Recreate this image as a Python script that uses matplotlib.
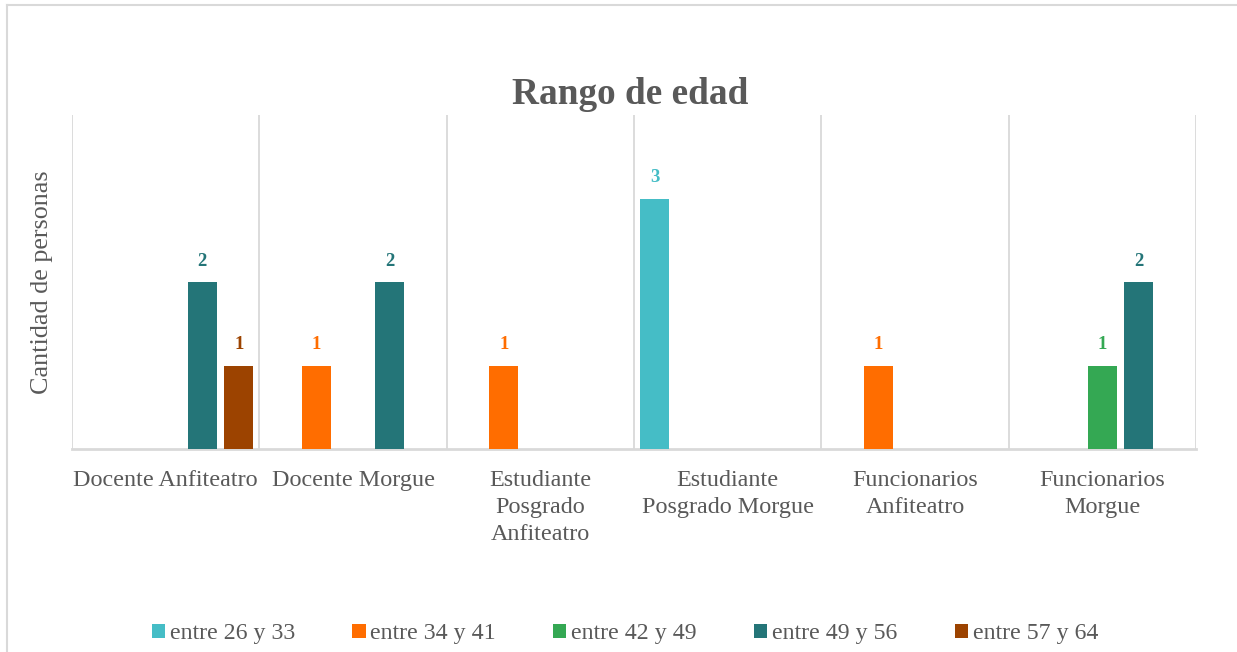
import matplotlib
matplotlib.use("Agg")
import matplotlib.pyplot as plt
from matplotlib.lines import Line2D
from matplotlib.patches import Patch

categories = ["Docente Anfiteatro", "Docente Morgue", "Estudiante\nPosgrado\nAnfiteatro",
              "Estudiante\nPosgrado Morgue", "Funcionarios\nAnfiteatro", "Funcionarios\nMorgue"]
series_names = ["entre 26 y 33", "entre 34 y 41", "entre 42 y 49", "entre 49 y 56", "entre 57 y 64"]
# None = no bar
s26_33 = [None, None, None, 3, None, None]
s34_41 = [None, 1, 1, None, 1, None]
s42_49 = [None, None, None, None, None, 1]
s49_56 = [2, 2, None, None, None, 2]
s57_64 = [1, None, None, None, None, None]
series_values = [s26_33, s34_41, s42_49, s49_56, s57_64]
colors = ["#45bdc6", "#ff6d00", "#34a853", "#247578", "#9c4300"]

plt.rcParams['font.family'] = ['Liberation Serif', 'DejaVu Serif']
text_grey = "#595959"
grid_grey = "#d9d9d9"

fig = plt.figure(figsize=(12.37, 6.52), dpi=100)
ax = fig.add_axes([72/1237, 1 - 449/652, (1196-72)/1237, (449-115)/652])

n = len(categories)
slot = 0.195
width = 0.155
for j, (vals, col) in enumerate(zip(series_values, colors)):
    for i, v in enumerate(vals):
        if v is None:
            continue
        x = i + (j - 2) * slot
        ax.bar(x, v, width=width, color=col, zorder=3)
        ax.annotate(str(v), (x, v), xytext=(0, 9), textcoords="offset points",
                    ha="center", va="bottom", fontsize=13.5, fontweight="bold", color=col)

ax.set_xlim(-0.5, n - 0.5)
ax.set_ylim(0, 4)
for b in range(n + 1):
    ax.axvline(b - 0.5, color=grid_grey, lw=1.3, zorder=1)
for s in ["top", "right", "left"]:
    ax.spines[s].set_visible(False)
ax.spines["bottom"].set_color(grid_grey)
ax.spines["bottom"].set_linewidth(2)
ax.set_yticks([])
ax.set_xticks(range(n))
ax.set_xticklabels(categories, fontsize=17.4, color=text_grey, linespacing=1.37)
ax.tick_params(axis="x", length=0, pad=15)
ax.set_ylabel("Cantidad de personas", fontsize=18.8, color=text_grey, labelpad=14)

fig.text(630/1237, 1 - 94/652, "Rango de edad", ha="center", va="center",
         fontsize=26.8, fontweight="bold", color=text_grey)

handles = [Patch(facecolor=c, edgecolor="none") for c in colors]
fig.legend(handles, series_names, loc="center", bbox_to_anchor=(625/1237, 1 - 634/652),
           ncol=5, frameon=False, fontsize=17.2, handlelength=0.55, handleheight=0.55,
           handletextpad=0.2, columnspacing=2.4, labelcolor=text_grey)

# outer border (top and left visible)
fig.add_artist(Line2D([7/1237, 1], [1 - 5/652, 1 - 5/652], color=grid_grey, lw=1.5,
                      transform=fig.transFigure))
fig.add_artist(Line2D([7/1237, 7/1237], [0, 1 - 5/652], color=grid_grey, lw=1.5,
                      transform=fig.transFigure))

fig.savefig("out.png", dpi=100)
